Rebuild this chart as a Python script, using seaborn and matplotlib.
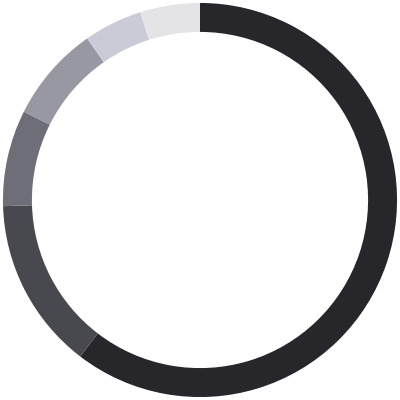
import matplotlib
matplotlib.use("Agg")
import matplotlib.pyplot as plt
import seaborn as sns

# Valores de los segmentos del anillo (en %), sentido horario desde arriba
segmentos = ["A", "B", "C", "D", "E", "F"]
valores = [60.4, 14.1, 7.9, 7.9, 4.8, 4.9]
colores = ["#27272b", "#48494f", "#6e6e78", "#9898a2", "#cbcbd8", "#e4e4e7"]

sns.set_theme(style="white")

fig = plt.figure(figsize=(4, 4), dpi=100)
ax = fig.add_axes([0, 0, 1, 1])

ax.pie(valores, labels=None, colors=colores, startangle=90, counterclock=False,
       radius=1.0, wedgeprops={"width": 0.147, "linewidth": 0, "edgecolor": "none"})

ax.set_xlim(-1.015, 1.015)
ax.set_ylim(-1.015, 1.015)
ax.set_aspect("equal")
ax.axis("off")

fig.savefig("out.png", dpi=100, facecolor="white")
print("Guardado out.png")
